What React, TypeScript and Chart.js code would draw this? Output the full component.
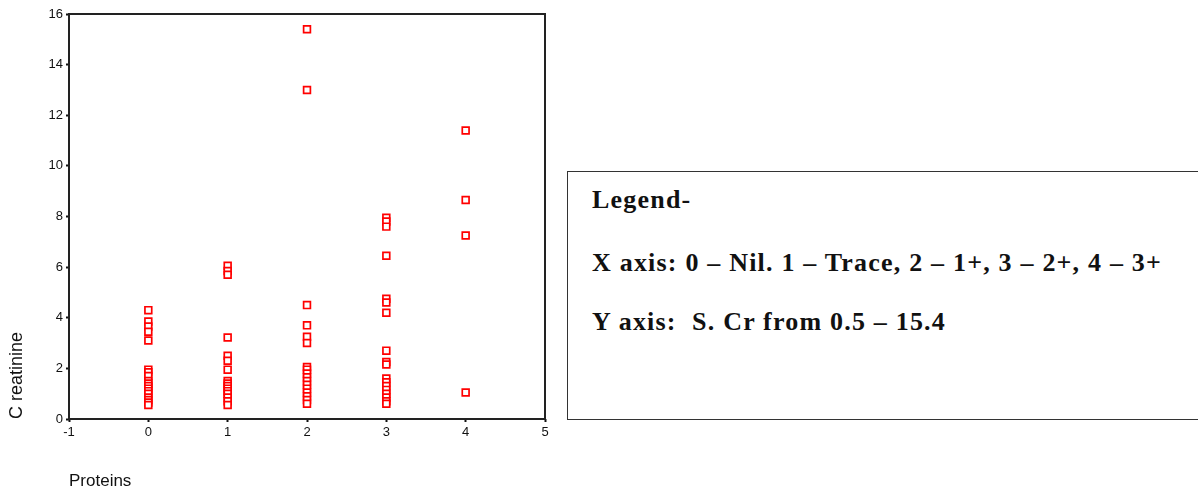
import React, { useEffect, useRef } from "react";
import { Chart, registerables } from "chart.js";

Chart.register(...registerables);

// Protein grade categories (x) and creatinine values (y)
const proteinGrades = [0, 1, 2, 3, 4];
const creatinineNil = [4.3, 3.85, 3.65, 3.45, 3.1, 1.95, 1.85, 1.7, 1.5, 1.4, 1.3, 1.2, 1.1, 1.0, 0.85, 0.75, 0.65, 0.55];
const creatinineTrace = [6.05, 5.85, 5.7, 3.22, 2.5, 2.3, 1.95, 1.5, 1.4, 1.3, 1.2, 1.1, 1.0, 0.85, 0.7, 0.55];
const creatinine1Plus = [15.4, 13.0, 4.5, 3.7, 3.25, 3.0, 2.05, 1.95, 1.8, 1.65, 1.5, 1.35, 1.2, 1.05, 0.9, 0.75, 0.6];
const creatinine2Plus = [7.95, 7.8, 7.6, 6.45, 4.75, 4.6, 4.2, 2.7, 2.25, 2.15, 1.6, 1.45, 1.3, 1.15, 1.0, 0.85, 0.7, 0.6];
const creatinine3Plus = [11.4, 8.65, 7.25, 1.05];
const seriesByGrade = [creatinineNil, creatinineTrace, creatinine1Plus, creatinine2Plus, creatinine3Plus];

const xTickRange = { min: -1, max: 5, step: 1 };
const yTickRange = { min: 0, max: 16, step: 2 };

const xTitle = "Proteins";
const yTitle = "C reatinine";

const legendTitle = "Legend-";
const legendXLine = "X axis: 0 – Nil. 1 – Trace, 2 – 1+, 3 – 2+, 4 – 3+";
const legendYLine = "Y axis:  S. Cr from 0.5 – 15.4";

const CANVAS_W = 560;
const CANVAS_H = 492;

const frame = {
  id: "frame",
  afterDatasetsDraw(chart: any) {
    const { ctx, chartArea } = chart;
    ctx.save();
    ctx.strokeStyle = "#222";
    ctx.lineWidth = 2;
    ctx.strokeRect(chartArea.left, chartArea.top, chartArea.right - chartArea.left, chartArea.bottom - chartArea.top);
    ctx.restore();
  },
};

export default function App() {
  const ref = useRef<HTMLCanvasElement | null>(null);

  useEffect(() => {
    if (!ref.current) return;
    const points: { x: number; y: number }[] = [];
    proteinGrades.forEach((g, i) => {
      seriesByGrade[i].forEach((v) => points.push({ x: g, y: v }));
    });
    const tickFont = { family: "'Liberation Sans', Arial, sans-serif", size: 13 };
    const chart = new Chart(ref.current, {
      type: "scatter",
      data: {
        datasets: [
          {
            data: points,
            pointStyle: "rect",
            radius: 4.8,
            borderWidth: 1.7,
            borderColor: "#ff0000",
            backgroundColor: "#ffffff",
          },
        ],
      },
      options: {
        animation: false,
        responsive: false,
        devicePixelRatio: 1,
        layout: { padding: { top: 14, right: 15, left: 0, bottom: 0 } },
        plugins: { legend: { display: false }, tooltip: { enabled: false } },
        scales: {
          x: {
            type: "linear",
            min: xTickRange.min,
            max: xTickRange.max,
            ticks: { stepSize: xTickRange.step, color: "#111", font: tickFont, padding: 3 },
            grid: { drawOnChartArea: false, drawTicks: true, tickLength: 3, tickWidth: 2, tickColor: "#111" },
            border: { display: false },
            title: {
              display: true,
              text: xTitle,
              align: "start",
              color: "#111",
              font: { family: "'Liberation Sans', Arial, sans-serif", size: 17 },
              padding: { top: 0, bottom: 0 },
            },
            afterFit(scale: any) {
              scale.height = CANVAS_H - 419;
            },
          },
          y: {
            type: "linear",
            min: yTickRange.min,
            max: yTickRange.max,
            ticks: { stepSize: yTickRange.step, color: "#111", font: tickFont, padding: 3 },
            grid: { drawOnChartArea: false, drawTicks: true, tickLength: 3, tickWidth: 2, tickColor: "#111" },
            border: { display: false },
            title: {
              display: true,
              text: yTitle,
              align: "start",
              color: "#111",
              font: { family: "'Liberation Sans', Arial, sans-serif", size: 18 },
              padding: { top: 6, bottom: 0 },
            },
            afterFit(scale: any) {
              scale.width = 69;
            },
          },
        },
      },
      plugins: [frame],
    } as any);
    return () => chart.destroy();
  }, []);

  const lineStyle: React.CSSProperties = {
    position: "absolute",
    left: 592,
    fontFamily: "'Liberation Serif', 'Times New Roman', serif",
    fontWeight: "bold",
    fontSize: 26,
    lineHeight: "26px",
    letterSpacing: "1.2px",
    whiteSpace: "pre",
    color: "#111",
  };

  return (
    <div style={{ position: "fixed", left: 0, top: 0, width: 1198, height: 492, overflow: "hidden", background: "#fff" }}>
      <canvas ref={ref} width={CANVAS_W} height={CANVAS_H} style={{ position: "absolute", left: 0, top: 0 }} />
      <div
        style={{
          position: "absolute",
          left: 567,
          top: 171,
          width: 660,
          height: 247,
          border: "1.5px solid #333",
        }}
      />
      <div style={{ ...lineStyle, top: 187 }}>{legendTitle}</div>
      <div style={{ ...lineStyle, top: 250 }}>{legendXLine}</div>
      <div style={{ ...lineStyle, top: 309 }}>{legendYLine}</div>
    </div>
  );
}
